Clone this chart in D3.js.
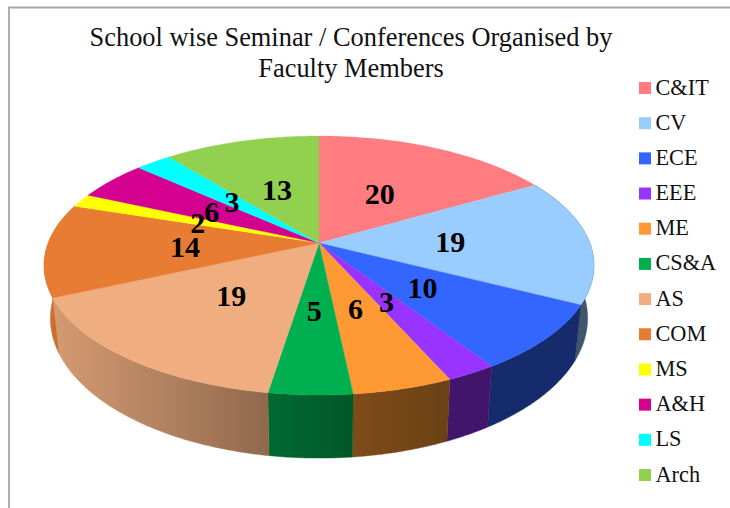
<!DOCTYPE html>
<html><head><meta charset="utf-8">
<script src="https://cdn.jsdelivr.net/npm/d3@7/dist/d3.min.js"></script>
<style>html,body{margin:0;padding:0;background:#fff}svg{display:block}</style>
</head><body><svg id="c" width="730" height="508"></svg>
<script>
const categories = ["C&IT","CV","ECE","EEE","ME","CS&A","AS","COM","MS","A&H","LS","Arch"];
const values = [20,19,10,3,6,5,19,14,2,6,3,13];
const colors = ["#FF7C80","#99CCFF","#3366FF","#9933FF","#FF9933","#00B050","#F0AE80","#E87C32","#FFFF00","#D4008F","#00FFFF","#92D050"];
const titleLines = ["School wise Seminar / Conferences Organised by","Faculty Members"];

const svg = d3.select("#c");
const defs = svg.append("defs");
const FONT = "'Liberation Serif','Times New Roman',serif";

// frame
svg.append("path").attr("d","M9,508V7.5H730").attr("fill","none").attr("stroke","#a6a6a6").attr("stroke-width",1.8);

// perspective projection of the unit disc on screen
const apexX=319, apexY=243, k=0.1737, RX=270.8, RY=125.6;
function topPt(theta,r=1){
  const u=Math.sin(theta)*r, v=-Math.cos(theta)*r, w=1-k*v;
  return [apexX+RX*u/w, apexY+RY*v/w];
}
function botPt(theta){
  const [x,y]=topPt(theta);
  return [apexX+(x-apexX)*0.977, y+56+(y-306)*0.08];
}
const pie = d3.pie().sort(null).value(d=>d);
const arcs = pie(values);
const line = d3.line();
const samples=(a,b)=>d3.range(0,61).map(i=>a+(b-a)*i/60);

// side wall, shaded along x
const shade = d3.scaleLinear().domain([44,270,350,450,600]).range([0.9,0.6,0.5,0.42,0.42]).clamp(true);
const g = svg.append("g");
const visible = arcs.map((a,i)=>({a,i}))
  .filter(d=>d.a.startAngle<3*Math.PI/2+0.2 && d.a.endAngle>Math.PI/2-0.3);
visible.forEach(({a,i})=>{
  const s=samples(a.startAngle,a.endAngle);
  const pts=s.map(t=>topPt(t)).concat(s.slice().reverse().map(t=>botPt(t)));
  const xs=pts.map(p=>p[0]), x0=d3.min(xs), x1=d3.max(xs);
  const grad=defs.append("linearGradient").attr("id","side"+i)
    .attr("gradientUnits","userSpaceOnUse").attr("x1",x0).attr("x2",x1).attr("y1",0).attr("y2",0);
  d3.range(0,6).forEach(j=>{
    const x=x0+(x1-x0)*j/5, c=d3.rgb(colors[i]), f=shade(x);
    grad.append("stop").attr("offset",j/5).attr("stop-color",d3.rgb(c.r*f,c.g*f,c.b*f).formatHex());
  });
  g.append("path").attr("d",line(pts)+"Z").attr("fill",`url(#side${i})`).attr("stroke",`url(#side${i})`).attr("stroke-width",0.4);
});

// top face
arcs.forEach((a,i)=>{
  const pts=[[apexX,apexY]].concat(samples(a.startAngle,a.endAngle).map(t=>topPt(t)));
  g.append("path").attr("d",line(pts)+"Z").attr("fill",colors[i]).attr("stroke",colors[i]).attr("stroke-width",0.3);
});

// value labels
arcs.forEach((a,i)=>{
  const [x,y]=topPt((a.startAngle+a.endAngle)/2,0.49);
  svg.append("text").attr("x",x-1).attr("y",y+11).attr("text-anchor","middle")
    .attr("font-family",FONT).attr("font-weight","bold").attr("font-size",30).attr("fill","#000").text(values[i]);
});

// title
titleLines.forEach((t,i)=>{
  svg.append("text").attr("x",351).attr("y",46+i*31).attr("text-anchor","middle")
    .attr("font-family",FONT).attr("font-size",26.4).attr("fill","#111").text(t);
});

// legend
const ly = d3.scalePoint().domain(categories).range([88,475]);
categories.forEach((c,i)=>{
  svg.append("rect").attr("x",639).attr("y",ly(c)-6).attr("width",12).attr("height",12).attr("fill",colors[i]);
  svg.append("text").attr("x",655.5).attr("y",ly(c)+6.5).attr("font-family",FONT).attr("font-size",22.3).attr("fill","#111").text(c);
});
</script></body></html>
